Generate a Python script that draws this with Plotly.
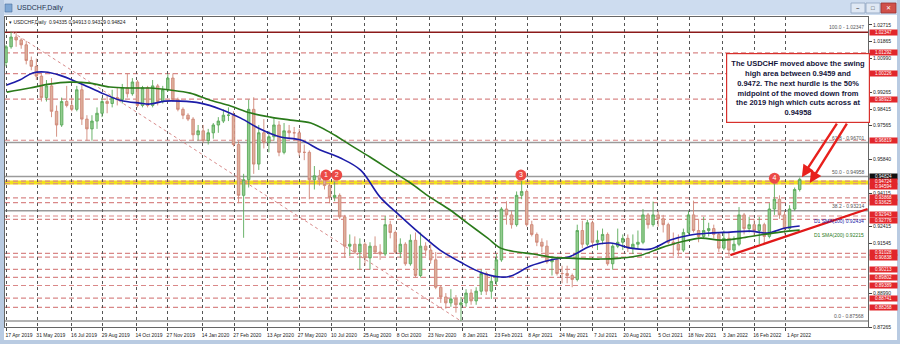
import plotly.graph_objects as go
import pandas as pd

# ---------------- data ----------------
symbol = "USDCHF,Daily"
quote = ["0.94335", "0.94913", "0.94329", "0.94824"]
last_price = 0.94824

week_start = "2019-04-17"
wk_open = [
    1.0080, 1.0160, 1.0210, 1.0195, 1.0170, 1.0090, 1.0060, 1.0010, 0.9900, 0.9960,
    0.9830, 0.9760, 0.9880, 0.9860, 0.9840, 0.9940, 0.9790, 0.9740, 0.9780, 0.9820,
    0.9880, 0.9870, 0.9900, 0.9890, 0.9950, 0.9920, 0.9980, 0.9860, 0.9950, 0.9860,
    0.9960, 0.9880, 0.9940, 1.0000, 0.9890, 0.9840, 0.9810, 0.9790, 0.9710, 0.9730,
    0.9680, 0.9720, 0.9760, 0.9780, 0.9810, 0.9810, 0.9660, 0.9400, 0.9480, 0.9840,
    0.9560, 0.9720, 0.9670, 0.9700, 0.9760, 0.9620, 0.9730, 0.9720, 0.9720, 0.9620,
    0.9620, 0.9480, 0.9500, 0.9480, 0.9450, 0.9390, 0.9400, 0.9290, 0.9140, 0.9150,
    0.9110, 0.9150, 0.9080, 0.9140, 0.9110, 0.9100, 0.9250, 0.9210, 0.9110, 0.9150,
    0.9050, 0.9170, 0.8990, 0.9140, 0.9120, 0.9070, 0.8930, 0.8880, 0.8850, 0.8870,
    0.8840, 0.8850, 0.8900, 0.8860, 0.8910, 0.9000, 0.8910, 0.8960, 0.9070, 0.9330,
    0.9300, 0.9250, 0.9400, 0.9420, 0.9250, 0.9200, 0.9160, 0.9140, 0.9060, 0.9070,
    0.9000, 0.9000, 0.8990, 0.8970, 0.9220, 0.9150, 0.9260, 0.9160, 0.9170, 0.9200,
    0.9050, 0.9140, 0.9160, 0.9180, 0.9130, 0.9150, 0.9160, 0.9300, 0.9250, 0.9300,
    0.9280, 0.9250, 0.9160, 0.9150, 0.9120, 0.9210, 0.9300, 0.9220, 0.9190, 0.9220,
    0.9230, 0.9200, 0.9130, 0.9180, 0.9120, 0.9150, 0.9300, 0.9230, 0.9250, 0.9220,
    0.9250, 0.9190, 0.9330, 0.9380, 0.9300, 0.9230, 0.9330, 0.9430,
]
wk_high = [
    1.0170, 1.0237, 1.0235, 1.0204, 1.0190, 1.0110, 1.0100, 1.0020, 0.9990, 1.0000,
    0.9860, 0.9900, 0.9960, 0.9900, 0.9960, 0.9975, 0.9810, 0.9810, 0.9850, 0.9900,
    0.9910, 0.9940, 0.9950, 0.9970, 1.0025, 1.0000, 0.9990, 0.9960, 0.9960, 0.9990,
    0.9970, 0.9960, 1.0020, 1.0024, 0.9900, 0.9850, 0.9820, 0.9800, 0.9760, 0.9760,
    0.9740, 0.9770, 0.9800, 0.9840, 0.9850, 0.9830, 0.9680, 0.9510, 0.9890, 0.9902,
    0.9760, 0.9790, 0.9730, 0.9800, 0.9780, 0.9770, 0.9760, 0.9750, 0.9740, 0.9660,
    0.9630, 0.9550, 0.9530, 0.9520, 0.9460, 0.9470, 0.9410, 0.9300, 0.9200, 0.9190,
    0.9180, 0.9160, 0.9160, 0.9190, 0.9150, 0.9294, 0.9270, 0.9220, 0.9180, 0.9160,
    0.9200, 0.9210, 0.9210, 0.9160, 0.9150, 0.9110, 0.8940, 0.8900, 0.8920, 0.8890,
    0.8880, 0.8920, 0.8920, 0.8930, 0.9020, 0.9010, 0.8990, 0.9100, 0.9340, 0.9370,
    0.9320, 0.9420, 0.9473, 0.9430, 0.9270, 0.9210, 0.9180, 0.9170, 0.9090, 0.9080,
    0.9040, 0.9040, 0.9000, 0.9250, 0.9270, 0.9275, 0.9270, 0.9220, 0.9230, 0.9210,
    0.9150, 0.9230, 0.9200, 0.9200, 0.9200, 0.9220, 0.9330, 0.9310, 0.9368, 0.9320,
    0.9300, 0.9260, 0.9210, 0.9200, 0.9230, 0.9320, 0.9373, 0.9280, 0.9290, 0.9260,
    0.9250, 0.9210, 0.9220, 0.9210, 0.9190, 0.9340, 0.9310, 0.9290, 0.9280, 0.9290,
    0.9260, 0.9360, 0.9460, 0.9400, 0.9320, 0.9350, 0.9440, 0.9491,
]
wk_low = [
    1.0060, 1.0150, 1.0160, 1.0150, 1.0070, 1.0040, 0.9990, 0.9880, 0.9880, 0.9800,
    0.9700, 0.9750, 0.9850, 0.9830, 0.9830, 0.9760, 0.9680, 0.9680, 0.9740, 0.9800,
    0.9820, 0.9850, 0.9860, 0.9870, 0.9900, 0.9910, 0.9850, 0.9850, 0.9850, 0.9850,
    0.9860, 0.9870, 0.9930, 0.9880, 0.9830, 0.9790, 0.9780, 0.9680, 0.9680, 0.9670,
    0.9660, 0.9690, 0.9720, 0.9770, 0.9780, 0.9650, 0.9360, 0.9183, 0.9440, 0.9510,
    0.9530, 0.9640, 0.9620, 0.9680, 0.9600, 0.9610, 0.9690, 0.9680, 0.9600, 0.9580,
    0.9380, 0.9430, 0.9450, 0.9430, 0.9360, 0.9370, 0.9280, 0.9080, 0.9090, 0.9100,
    0.9020, 0.9040, 0.9020, 0.9100, 0.9070, 0.9090, 0.9180, 0.9100, 0.9080, 0.9040,
    0.9040, 0.8980, 0.8980, 0.9090, 0.9050, 0.8920, 0.8850, 0.8820, 0.8830, 0.8800,
    0.8757, 0.8830, 0.8840, 0.8840, 0.8890, 0.8890, 0.8870, 0.8940, 0.9060, 0.9250,
    0.9230, 0.9240, 0.9380, 0.9240, 0.9190, 0.9140, 0.9110, 0.9050, 0.8990, 0.8990,
    0.8950, 0.8950, 0.8930, 0.8960, 0.9130, 0.9140, 0.9130, 0.9120, 0.9150, 0.9040,
    0.9020, 0.9130, 0.9120, 0.9110, 0.9100, 0.9130, 0.9150, 0.9230, 0.9240, 0.9240,
    0.9210, 0.9150, 0.9090, 0.9090, 0.9110, 0.9200, 0.9210, 0.9160, 0.9180, 0.9190,
    0.9180, 0.9110, 0.9120, 0.9090, 0.9110, 0.9140, 0.9200, 0.9210, 0.9190, 0.9150,
    0.9150, 0.9180, 0.9300, 0.9280, 0.9200, 0.9220, 0.9320, 0.9420,
]
wk_close = [
    1.0160, 1.0210, 1.0195, 1.0170, 1.0090, 1.0060, 1.0010, 0.9900, 0.9960, 0.9830,
    0.9760, 0.9880, 0.9860, 0.9840, 0.9940, 0.9790, 0.9740, 0.9780, 0.9820, 0.9880,
    0.9870, 0.9900, 0.9890, 0.9950, 0.9920, 0.9980, 0.9860, 0.9950, 0.9860, 0.9960,
    0.9880, 0.9940, 1.0000, 0.9890, 0.9840, 0.9810, 0.9790, 0.9710, 0.9730, 0.9680,
    0.9720, 0.9760, 0.9780, 0.9810, 0.9810, 0.9660, 0.9400, 0.9480, 0.9840, 0.9560,
    0.9720, 0.9670, 0.9700, 0.9760, 0.9620, 0.9730, 0.9720, 0.9720, 0.9620, 0.9620,
    0.9480, 0.9500, 0.9480, 0.9450, 0.9390, 0.9400, 0.9290, 0.9140, 0.9150, 0.9110,
    0.9150, 0.9080, 0.9140, 0.9110, 0.9100, 0.9250, 0.9210, 0.9110, 0.9150, 0.9050,
    0.9170, 0.8990, 0.9140, 0.9120, 0.9070, 0.8930, 0.8880, 0.8850, 0.8870, 0.8840,
    0.8850, 0.8900, 0.8860, 0.8910, 0.9000, 0.8910, 0.8960, 0.9070, 0.9330, 0.9300,
    0.9250, 0.9400, 0.9420, 0.9250, 0.9200, 0.9160, 0.9140, 0.9060, 0.9070, 0.9000,
    0.9000, 0.8990, 0.8970, 0.9220, 0.9150, 0.9260, 0.9160, 0.9170, 0.9200, 0.9050,
    0.9140, 0.9160, 0.9180, 0.9130, 0.9150, 0.9160, 0.9300, 0.9250, 0.9300, 0.9280,
    0.9250, 0.9160, 0.9150, 0.9120, 0.9210, 0.9300, 0.9220, 0.9190, 0.9220, 0.9230,
    0.9200, 0.9130, 0.9180, 0.9120, 0.9150, 0.9300, 0.9230, 0.9250, 0.9220, 0.9250,
    0.9190, 0.9330, 0.9380, 0.9300, 0.9230, 0.9330, 0.9430, 0.9482,
]
week_dates = pd.date_range(week_start, periods=len(wk_close), freq="7D")

ma100_dates = [
    "2019-04-18", "2019-05-06", "2019-05-24", "2019-06-10", "2019-06-30", "2019-07-28",
    "2019-08-25", "2019-09-22", "2019-10-19", "2019-11-02", "2019-11-23", "2019-12-14",
    "2020-01-11", "2020-02-08", "2020-03-07", "2020-04-03", "2020-05-01", "2020-05-29",
    "2020-06-25", "2020-07-23", "2020-08-20", "2020-09-16", "2020-10-14", "2020-11-11",
    "2020-12-08", "2021-01-05", "2021-02-02", "2021-03-02", "2021-03-16", "2021-04-12",
    "2021-05-10", "2021-06-07", "2021-07-04", "2021-08-01", "2021-08-29", "2021-09-25",
    "2021-10-23", "2021-11-20", "2021-12-17", "2022-01-14", "2022-02-11", "2022-03-06",
    "2022-03-31", "2022-04-20",
]
ma100_vals = [
    0.9964, 0.9990, 1.0026, 1.0031, 1.0015, 0.9974, 0.9928, 0.9887, 0.9872, 0.9867,
    0.9882, 0.9882, 0.9872, 0.9841, 0.9795, 0.9739, 0.9698, 0.9683, 0.9632, 0.9591,
    0.9529, 0.9391, 0.9294, 0.9202, 0.9120, 0.9059, 0.9007, 0.8982, 0.8987, 0.9038,
    0.9069, 0.9089, 0.9140, 0.9156, 0.9130, 0.9125, 0.9171, 0.9197, 0.9207, 0.9212,
    0.9217, 0.9207, 0.9233, 0.9243,
]
ma200_dates = [
    "2019-04-18", "2019-05-20", "2019-06-16", "2019-07-14", "2019-08-11", "2019-09-08",
    "2019-10-05", "2019-11-02", "2019-11-30", "2019-12-28", "2020-01-25", "2020-02-22",
    "2020-03-21", "2020-04-17", "2020-05-15", "2020-06-12", "2020-07-10", "2020-08-06",
    "2020-09-02", "2020-09-30", "2020-10-28", "2020-11-24", "2020-12-22", "2021-01-15",
    "2021-02-12", "2021-03-02", "2021-03-25", "2021-04-16", "2021-05-10", "2021-06-02",
    "2021-07-18", "2021-08-15", "2021-09-12", "2021-10-09", "2021-11-06", "2021-12-04",
    "2021-12-31", "2022-01-28", "2022-02-24", "2022-03-24", "2022-04-20",
]
ma200_vals = [
    0.9928, 0.9949, 0.9969, 0.9979, 0.9974, 0.9954, 0.9949, 0.9949, 0.9939, 0.9923,
    0.9887, 0.9857, 0.9821, 0.9800, 0.9785, 0.9770, 0.9719, 0.9657, 0.9596, 0.9529,
    0.9463, 0.9391, 0.9325, 0.9258, 0.9181, 0.9130, 0.9110, 0.9100, 0.9084, 0.9079,
    0.9074, 0.9079, 0.9094, 0.9130, 0.9161, 0.9181, 0.9171, 0.9181, 0.9197, 0.9212,
    0.9222,
]
ma100_label = "D1 SMA(100) 0.92434"
ma200_label = "D1 SMA(200) 0.92215"

fib_levels = [100.0, 61.8, 50.0, 38.2, 0.0]
fib_prices = [1.02347, 0.96701, 0.94958, 0.93214, 0.87568]
fib_line_dates = ["2019-04-26", "2021-01-06"]
fib_line_prices = [1.02347, 0.87568]

sr_levels = [1.01292, 1.00226, 0.98923, 0.96819, 0.94724, 0.94594, 0.93868, 0.93625,
             0.92943, 0.92776, 0.91028, 0.90838, 0.90213, 0.89802, 0.89389, 0.88741, 0.88268]
swing_zone = [0.94594, 0.94724]

axis_ticks = [1.02715, 1.01865, 1.00990, 0.99265, 0.98415, 0.97565, 0.95840, 0.94115,
              0.92415, 0.91545, 0.88990, 0.87265]
date_labels = ["17 Apr 2019", "31 May 2019", "16 Jul 2019", "29 Aug 2019", "14 Oct 2019",
               "27 Nov 2019", "14 Jan 2020", "27 Feb 2020", "13 Apr 2020", "27 May 2020",
               "10 Jul 2020", "25 Aug 2020", "8 Oct 2020", "23 Nov 2020", "8 Jan 2021",
               "23 Feb 2021", "8 Apr 2021", "24 May 2021", "7 Jul 2021", "20 Aug 2021",
               "5 Oct 2021", "18 Nov 2021", "3 Jan 2022", "16 Feb 2022", "1 Apr 2022"]
date_ticks = pd.to_datetime(date_labels, format="%d %b %Y")

swing_dates = ["2020-07-03", "2020-07-18", "2021-03-30", "2022-03-16"]
swing_prices = [0.9504, 0.9504, 0.9504, 0.9488]
swing_labels = ["1", "2", "3", "4"]

trend_dates = ["2022-01-14", "2022-07-23"]
trend_prices = [0.9094, 0.9330]

note_text = ("The USDCHF moved above the swing<br>high area between 0.9459 and<br>"
             "0.9472. The next hurdle is the 50%<br>midpoint of the moved down from<br>"
             "the 2019 high which cuts across at<br>0.94958")
arrow_dates = ["2022-04-23", "2022-05-04"]
arrow_prices = [0.9493, 0.9463]

x_range = ["2019-04-15 14:00", "2022-07-23 14:00"]
y_range = [0.87265, 1.03124]

# ---------------- figure ----------------
W, H = 900, 344
ML, MR, MT, MB = 5, 32, 17, 17
PW, PH = W - ML - MR, H - MT - MB
PX_PER_UNIT = PH / (y_range[1] - y_range[0])


def px(xp):
    return (xp - ML) / PW


def py(yp):
    return (H - MB - yp) / PH


fig = go.Figure()

fig.add_trace(go.Scatter(x=fib_line_dates, y=fib_line_prices, mode="lines",
                         line=dict(color="#d88a8a", width=1, dash="dot"), hoverinfo="skip"))

fig.add_trace(go.Candlestick(
    x=week_dates, open=wk_open, high=wk_high, low=wk_low, close=wk_close,
    increasing=dict(line=dict(color="#5aaa5a", width=0.9), fillcolor="#93cc8f"),
    decreasing=dict(line=dict(color="#d08878", width=0.9), fillcolor="#ddb09c"),
    whiskerwidth=0,
))

fig.add_trace(go.Scatter(x=ma100_dates, y=ma100_vals, mode="lines",
                         line=dict(color="#1c1ca8", width=1.6, shape="spline"), hoverinfo="skip"))
fig.add_trace(go.Scatter(x=ma200_dates, y=ma200_vals, mode="lines",
                         line=dict(color="#2a7a1a", width=1.6, shape="spline"), hoverinfo="skip"))

fig.add_trace(go.Scatter(x=trend_dates, y=trend_prices, mode="lines",
                         line=dict(color="#e01818", width=2.2), hoverinfo="skip"))

fig.add_trace(go.Scatter(x=swing_dates, y=swing_prices, mode="markers+text",
                         marker=dict(size=11, color="#ec4a46"),
                         text=swing_labels, textposition="middle center",
                         textfont=dict(color="white", size=7, family="Arial"),
                         hoverinfo="skip"))

shapes = []
shapes.append(dict(type="line", xref="paper", x0=0, x1=1, yref="y",
                   y0=sum(swing_zone) / 2, y1=sum(swing_zone) / 2,
                   line=dict(color="#f2e21c", width=4), layer="below"))
for lv in sr_levels:
    shapes.append(dict(type="line", xref="paper", x0=0, x1=1, yref="y", y0=lv, y1=lv,
                       line=dict(color="#d98888", width=1.2, dash="5px,3px"), layer="below"))
for lvl, pr in zip(fib_levels, fib_prices):
    col = "#8b1a1a" if lvl == 100.0 else "#9a9a9a"
    shapes.append(dict(type="line", xref="paper", x0=0, x1=1, yref="y", y0=pr, y1=pr,
                       line=dict(color=col, width=1.5), layer="below"))

chrome = "#b9cbe2"
shapes += [
    dict(type="rect", xref="paper", yref="paper", x0=px(0), x1=px(W), y0=py(15), y1=py(0),
         fillcolor="#cddcef", line=dict(width=0)),
    dict(type="rect", xref="paper", yref="paper", x0=px(0), x1=px(4), y0=py(H), y1=py(0),
         fillcolor=chrome, line=dict(width=0)),
    dict(type="rect", xref="paper", yref="paper", x0=px(897), x1=px(W), y0=py(H), y1=py(0),
         fillcolor=chrome, line=dict(width=0)),
    dict(type="rect", xref="paper", yref="paper", x0=px(0), x1=px(W), y0=py(H), y1=py(340),
         fillcolor=chrome, line=dict(width=0)),
    dict(type="rect", xref="paper", yref="paper", x0=px(851), x1=px(865), y0=py(13), y1=py(3),
         fillcolor="#dfe8f4", line=dict(color="#8da2bf", width=0.8)),
    dict(type="rect", xref="paper", yref="paper", x0=px(866), x1=px(880), y0=py(13), y1=py(3),
         fillcolor="#dfe8f4", line=dict(color="#8da2bf", width=0.8)),
    dict(type="rect", xref="paper", yref="paper", x0=px(881), x1=px(896), y0=py(13), y1=py(3),
         fillcolor="#d0504a", line=dict(color="#9a3030", width=0.8)),
    dict(type="rect", xref="paper", yref="paper", x0=px(5), x1=px(12), y0=py(12), y1=py(4),
         fillcolor="#7fa7d4", line=dict(color="#4a6f9c", width=0.6)),
]

annotations = []
small = dict(family="Arial", size=5, color="#222222")


def note(x, y, text, font, xa="center", ya="middle", **kw):
    d = dict(xref="paper", yref="paper", x=x, y=y, xanchor=xa, yanchor=ya,
             showarrow=False, text=text, font=font)
    d.update(kw)
    annotations.append(d)


note(px(15), py(8), symbol, dict(family="Arial", size=7, color="#1e3350"), xa="left")
note(px(7), py(22), "\u25be " + symbol + "  " + " ".join(quote), small, xa="left")
note(px(858), py(8), "\u2013", dict(size=7, color="#333"))
note(px(873), py(8), "\u25a1", dict(size=6, color="#333"))
note(px(888.5), py(8), "\u2715", dict(size=6, color="white"))

for lvl, pr in zip(fib_levels, fib_prices):
    annotations.append(dict(xref="paper", yref="y", x=1, y=pr, xanchor="right", yanchor="bottom",
                            xshift=-2, showarrow=False, text=f"{lvl:.1f} - {pr:.5f}",
                            font=dict(family="Arial", size=5, color="#555555")))

# price tags on the axis; tags that sit too close are nudged apart so they stay legible
tags = [(lv, "#e2262b") for lv in [fib_prices[0]] + sr_levels] + [(last_price, "#111111")]
tags.sort(key=lambda t: -t[0])
TAG_H = 5
tag_pos = [(t[0], -(y_range[1] - t[0]) * PX_PER_UNIT) for t in tags]  # pixel offset from top (negative down)
placed = []
for i, (lv, col) in enumerate(tags):
    base = tag_pos[i][1]
    placed.append(base)
# relax overlaps: push groups apart symmetrically
for _ in range(30):
    moved = False
    for i in range(1, len(placed)):
        gap = placed[i - 1] - placed[i]
        if gap < TAG_H + 0.3:
            d = (TAG_H + 0.3 - gap) / 2
            placed[i - 1] += d
            placed[i] -= d
            moved = True
    if not moved:
        break
for (lv, col), (_, base), pos in zip(tags, tag_pos, placed):
    annotations.append(dict(xref="paper", yref="y", x=1, y=lv, xanchor="left", yanchor="middle",
                            xshift=1, yshift=pos - base, showarrow=False, text=f"{lv:.5f}",
                            bgcolor=col, borderpad=0, width=27, height=TAG_H,
                            font=dict(family="Arial", size=4.6, color="white")))

annotations.append(dict(xref="paper", yref="y", x=1, y=ma100_vals[-1], xanchor="right",
                        yanchor="bottom", xshift=-2, showarrow=False, text=ma100_label,
                        font=dict(family="Arial", size=5, color="#1c1ca8")))
annotations.append(dict(xref="paper", yref="y", x=1, y=ma200_vals[-1], xanchor="right",
                        yanchor="top", xshift=-2, showarrow=False, text=ma200_label,
                        font=dict(family="Arial", size=5, color="#2a7a1a")))

for d, p, ax, ay in zip(arrow_dates, arrow_prices, [36, 38], [-55, -61]):
    annotations.append(dict(xref="x", yref="y", x=d, y=p, ax=ax, ay=ay, axref="pixel",
                            ayref="pixel", showarrow=True, arrowhead=2, arrowsize=1.0,
                            arrowwidth=2.4, arrowcolor="#e8201c", text=""))

note(px(798), py(87.5), "<b>" + note_text + "</b>",
     dict(family="Arial", size=7.5, color="#14143a"),
     align="center", bgcolor="white", bordercolor="#d8302c", borderwidth=1.2,
     borderpad=2, width=138, height=64)

fig.update_layout(
    width=W, height=H,
    margin=dict(l=ML, r=MR, t=MT, b=MB),
    paper_bgcolor="white", plot_bgcolor="white",
    showlegend=False,
    shapes=shapes, annotations=annotations,
    xaxis=dict(type="date", range=x_range, rangeslider=dict(visible=False),
               tickvals=date_ticks, ticktext=date_labels, ticks="outside", ticklen=3,
               tickcolor="#444", tickfont=dict(family="Arial", size=5, color="#222"),
               ticklabelshift=13, showgrid=True, gridcolor="#555555", griddash="dot",
               gridwidth=0.6, showline=True, linecolor="#666", linewidth=1, mirror=True,
               zeroline=False, fixedrange=True),
    yaxis=dict(range=y_range, side="right", tickvals=axis_ticks,
               ticktext=[f"{t:.5f}" for t in axis_ticks], ticks="outside", ticklen=3,
               tickcolor="#444", tickfont=dict(family="Arial", size=5, color="#222"),
               showgrid=False, showline=True, linecolor="#666", linewidth=1, mirror=True,
               zeroline=False, fixedrange=True),
)

fig.write_html("out.html", config={"displayModeBar": False})
